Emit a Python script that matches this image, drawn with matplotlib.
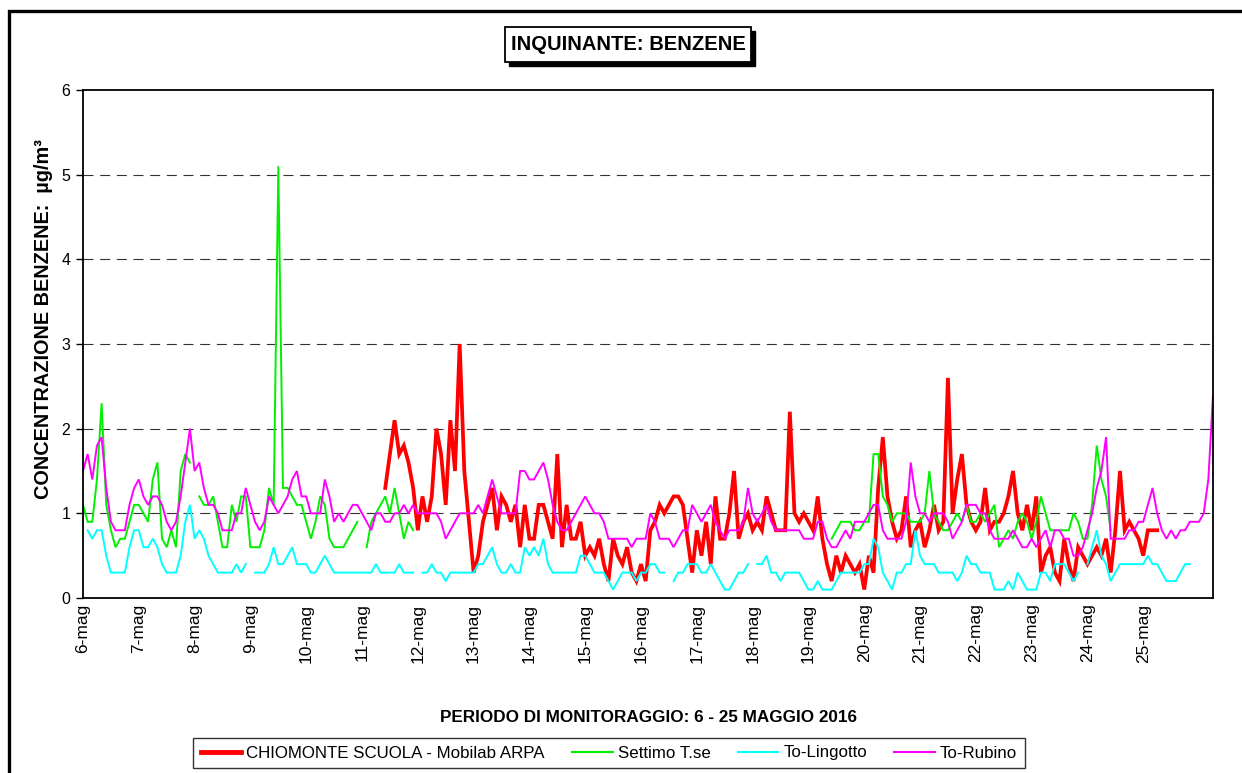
import numpy as np
import matplotlib
matplotlib.use("Agg")
import matplotlib.pyplot as plt
from matplotlib.lines import Line2D
from matplotlib.patches import Rectangle

plt.rcParams["font.family"] = ["Liberation Sans", "DejaVu Sans"]

nan = np.nan

# 2-hourly readings from 6 May 00:00, one row of 12 values per day
DAY_LABELS = [f"{d}-mag" for d in range(6, 26)]
STEP_H = 2

chiomonte = (
    [nan] * 12 * 5
    + [nan, nan, nan, nan, nan, 1.3, 1.7, 2.1, 1.7, 1.8, 1.6, 1.3]
    + [0.8, 1.2, 0.9, 1.2, 2.0, 1.7, 1.1, 2.1, 1.5, 3.0, 1.5, 0.9]
    + [0.3, 0.5, 0.9, 1.1, 1.3, 0.8, 1.2, 1.1, 0.9, 1.1, 0.6, 1.1]
    + [0.7, 0.7, 1.1, 1.1, 0.9, 0.7, 1.7, 0.6, 1.1, 0.7, 0.7, 0.9]
    + [0.5, 0.6, 0.5, 0.7, 0.4, 0.2, 0.7, 0.5, 0.4, 0.6, 0.3, 0.2]
    + [0.4, 0.2, 0.8, 0.9, 1.1, 1.0, 1.1, 1.2, 1.2, 1.1, 0.7, 0.3]
    + [0.8, 0.5, 0.9, 0.4, 1.2, 0.7, 0.7, 1.0, 1.5, 0.7, 0.9, 1.0]
    + [0.8, 0.9, 0.8, 1.2, 1.0, 0.8, 0.8, 0.8, 2.2, 1.0, 0.9, 1.0]
    + [0.9, 0.8, 1.2, 0.7, 0.4, 0.2, 0.5, 0.3, 0.5, 0.4, 0.3, 0.4]
    + [0.1, 0.5, 0.3, 1.3, 1.9, 1.2, 0.9, 0.7, 0.8, 1.2, 0.6, 0.8]
    + [0.9, 0.6, 0.8, 1.1, 0.8, 0.9, 2.6, 1.0, 1.4, 1.7, 1.1, 0.9]
    + [0.8, 0.9, 1.3, 0.8, 0.9, 0.9, 1.0, 1.2, 1.5, 1.0, 0.8, 1.1]
    + [0.8, 1.2, 0.3, 0.5, 0.6, 0.3, 0.2, 0.7, 0.4, 0.2, 0.6, 0.5]
    + [0.4, 0.5, 0.6, 0.5, 0.7, 0.3, 0.8, 1.5, 0.8, 0.9, 0.8, 0.7]
    + [0.5, 0.8, 0.8, 0.8] + [nan] * 8
    + [nan] * 4
)

settimo = (
    [1.1, 0.9, 0.9, 1.4, 2.3, 1.1, 0.8, 0.6, 0.7, 0.7, 0.9, 1.1]
    + [1.1, 1.0, 0.9, 1.4, 1.6, 0.7, 0.6, 0.8, 0.6, 1.5, 1.7, 1.6]
    + [nan, 1.2, 1.1, 1.1, 1.2, 0.9, 0.6, 0.6, 1.1, 0.9, 1.2, 1.2]
    + [0.6, 0.6, 0.6, 0.8, 1.3, 1.1, 5.1, 1.3, 1.3, 1.2, 1.1, 1.1]
    + [0.9, 0.7, 0.9, 1.2, 1.1, 0.7, 0.6, 0.6, 0.6, 0.7, 0.8, 0.9]
    + [nan, 0.6, 0.9, 1.0, 1.1, 1.2, 1.0, 1.3, 1.0, 0.7, 0.9, 0.8]
    + [nan] * 12 * 7
    + [nan] * 5 + [0.7, 0.8, 0.9, 0.9, 0.9, 0.8, 0.8]
    + [0.9, 0.9, 1.7, 1.7, 1.2, 1.1, 0.9, 1.0, 1.0, 1.0, 0.9, 0.9]
    + [0.9, 1.0, 1.5, 1.0, 0.9, 0.8, 0.8, 0.9, 1.0, 0.9, 1.1, 0.9]
    + [0.9, 1.0, 0.9, 1.0, 1.1, 0.6, 0.7, 0.8, 0.7, 0.9, 1.0, 0.9]
    + [0.7, 0.9, 1.2, 1.0, 0.8, 0.8, 0.8, 0.8, 0.8, 1.0, 0.9, 0.7]
    + [0.7, 1.1, 1.8, 1.4, 1.2, 0.8] + [nan] * 6
    + [nan] * 12
    + [nan] * 4
)

lingotto = (
    [nan, 0.8, 0.7, 0.8, 0.8, 0.5, 0.3, 0.3, 0.3, 0.3, 0.6, 0.8]
    + [0.8, 0.6, 0.6, 0.7, 0.6, 0.4, 0.3, 0.3, 0.3, 0.5, 0.9, 1.1]
    + [0.7, 0.8, 0.7, 0.5, 0.4, 0.3, 0.3, 0.3, 0.3, 0.4, 0.3, 0.4]
    + [nan, 0.3, 0.3, 0.3, 0.4, 0.6, 0.4, 0.4, 0.5, 0.6, 0.4, 0.4]
    + [0.4, 0.3, 0.3, 0.4, 0.5, 0.4, 0.3, 0.3, 0.3, 0.3, 0.3, 0.3]
    + [0.3, 0.3, 0.3, 0.4, 0.3, 0.3, 0.3, 0.3, 0.4, 0.3, 0.3, 0.3]
    + [nan, 0.3, 0.3, 0.4, 0.3, 0.3, 0.2, 0.3, 0.3, 0.3, 0.3, 0.3]
    + [0.3, 0.4, 0.4, 0.5, 0.6, 0.4, 0.3, 0.3, 0.4, 0.3, 0.3, 0.6]
    + [0.5, 0.6, 0.5, 0.7, 0.4, 0.3, 0.3, 0.3, 0.3, 0.3, 0.3, 0.5]
    + [0.5, 0.4, 0.3, 0.3, 0.3, 0.2, 0.1, 0.2, 0.3, 0.3, 0.3, 0.2]
    + [0.3, 0.3, 0.4, 0.4, 0.3, 0.3, nan, 0.2, 0.3, 0.3, 0.4, 0.4]
    + [0.4, 0.3, 0.3, 0.4, 0.3, 0.2, 0.1, 0.1, 0.2, 0.3, 0.3, 0.4]
    + [nan, 0.4, 0.4, 0.5, 0.3, 0.3, 0.2, 0.3, 0.3, 0.3, 0.3, 0.2]
    + [0.1, 0.1, 0.2, 0.1, 0.1, 0.1, 0.2, 0.3, 0.3, 0.3, 0.3, 0.3]
    + [0.4, 0.4, 0.7, 0.6, 0.3, 0.2, 0.1, 0.3, 0.3, 0.4, 0.4, 0.8]
    + [0.5, 0.4, 0.4, 0.4, 0.3, 0.3, 0.3, 0.3, 0.2, 0.3, 0.5, 0.4]
    + [0.4, 0.3, 0.3, 0.3, 0.1, 0.1, 0.1, 0.2, 0.1, 0.3, 0.2, 0.1]
    + [0.1, 0.1, 0.3, 0.3, 0.2, 0.4, 0.4, 0.4, 0.3, 0.2, 0.3, nan]
    + [0.4, 0.6, 0.8, 0.5, 0.4, 0.2, 0.3, 0.4, 0.4, 0.4, 0.4, 0.4]
    + [0.4, 0.5, 0.4, 0.4, 0.3, 0.2, 0.2, 0.2, 0.3, 0.4, 0.4, nan]
    + [nan] * 4
)

rubino = (
    [1.5, 1.7, 1.4, 1.8, 1.9, 1.3, 0.9, 0.8, 0.8, 0.8, 1.1, 1.3]
    + [1.4, 1.2, 1.1, 1.2, 1.2, 1.1, 0.9, 0.8, 0.9, 1.2, 1.6, 2.0]
    + [1.5, 1.6, 1.3, 1.1, 1.1, 1.0, 0.8, 0.8, 0.8, 1.0, 1.0, 1.3]
    + [1.1, 0.9, 0.8, 0.9, 1.2, 1.1, 1.0, 1.1, 1.2, 1.4, 1.5, 1.2]
    + [1.2, 1.0, 1.0, 1.0, 1.4, 1.2, 0.9, 1.0, 0.9, 1.0, 1.1, 1.1]
    + [1.0, 0.9, 0.8, 1.0, 1.0, 0.9, 0.9, 1.0, 1.0, 1.1, 1.0, 1.1]
    + [1.0, 1.0, 1.0, 1.0, 1.0, 0.9, 0.7, 0.8, 0.9, 1.0, 1.0, 1.0]
    + [1.0, 1.1, 1.0, 1.2, 1.4, 1.2, 1.0, 1.0, 1.0, 1.0, 1.5, 1.5]
    + [1.4, 1.4, 1.5, 1.6, 1.4, 1.1, 0.9, 0.8, 0.8, 0.9, 1.0, 1.1]
    + [1.2, 1.1, 1.0, 1.0, 0.9, 0.7, 0.7, 0.7, 0.7, 0.7, 0.6, 0.7]
    + [0.7, 0.7, 1.0, 0.9, 0.7, 0.7, 0.7, 0.6, 0.7, 0.8, 0.8, 1.1]
    + [1.0, 0.9, 1.0, 1.1, 0.9, 0.8, 0.7, 0.8, 0.8, 0.8, 0.9, 1.3]
    + [1.0, 0.9, 1.0, 1.1, 0.9, 0.8, 0.8, 0.8, 0.8, 0.8, 0.8, 0.7]
    + [0.7, 0.7, 0.9, 0.9, 0.7, 0.6, 0.6, 0.7, 0.8, 0.7, 0.9, 0.9]
    + [0.9, 1.0, 1.1, 1.1, 0.8, 0.7, 0.7, 0.7, 0.7, 0.9, 1.6, 1.2]
    + [1.0, 1.0, 0.9, 1.0, 1.0, 1.0, 0.9, 0.7, 0.8, 0.9, 1.1, 1.1]
    + [1.1, 1.0, 1.0, 0.8, 0.7, 0.7, 0.7, 0.7, 0.8, 0.7, 0.6, 0.6]
    + [0.7, 0.6, 0.7, 0.8, 0.6, 0.8, 0.8, 0.7, 0.7, 0.5, 0.5, 0.6]
    + [0.8, 1.0, 1.3, 1.5, 1.9, 0.7, 0.7, 0.7, 0.7, 0.8, 0.8, 0.9]
    + [0.9, 1.1, 1.3, 1.0, 0.8, 0.7, 0.8, 0.7, 0.8, 0.8, 0.9, 0.9]
    + [0.9, 1.0, 1.4, 2.4]
)

SERIES = [
    ("CHIOMONTE SCUOLA - Mobilab ARPA", chiomonte, "#FF0000", 2.7),
    ("Settimo T.se", settimo, "#00F000", 1.4),
    ("To-Lingotto", lingotto, "#00FFFF", 1.4),
    ("To-Rubino", rubino, "#FF00FF", 1.4),
]

W, H = 1242, 773


def fx(px):
    return px / W


def fy(py):
    return 1 - py / H


def main():
    fig = plt.figure(figsize=(W / 100, H / 100), dpi=100)
    fig.patch.set_facecolor("white")

    # outer chart frame (cropped on right/bottom in the original)
    fig.add_artist(Rectangle((fx(9), -0.2), 1.5, fy(11) + 0.2, transform=fig.transFigure,
                             fill=False, edgecolor="black", lw=2.4))

    ax = fig.add_axes([fx(83), fy(598), fx(1213) - fx(83), fy(90) - fy(598)])
    hours = np.arange(len(rubino)) * STEP_H
    for name, vals, col, lw in SERIES:
        ax.plot(hours, np.array(vals, dtype=float), color=col, lw=lw, label=name,
                solid_joinstyle="miter")

    ax.set_xlim(0, hours[-1])
    ax.set_ylim(0, 6)
    ax.set_yticks(range(7))
    ax.set_xticks(np.arange(len(DAY_LABELS)) * 24)
    ax.set_xticklabels(DAY_LABELS, rotation=90, fontsize=12.5)
    ax.tick_params(axis="x", length=0, pad=4)
    ax.tick_params(axis="y", length=5, width=1, labelsize=11.5, pad=4, direction="out")
    for y in range(1, 6):
        ax.axhline(y, color="#333333", lw=0.8, dashes=(9, 6), zorder=0)
    for s in ax.spines.values():
        s.set_linewidth(1.3)
        s.set_color("black")

    fig.text(fx(44), fy(319), "CONCENTRAZIONE BENZENE:  µg/m³", rotation=90,
             ha="center", va="center", fontsize=14.3, fontweight="bold")
    fig.text(fx(648), fy(718), "PERIODO DI MONITORAGGIO: 6 - 25 MAGGIO 2016",
             ha="center", va="center", fontsize=12.3, fontweight="bold")

    # title box with drop shadow
    fig.add_artist(Rectangle((fx(509), fy(66)), fx(755) - fx(509), fy(31) - fy(66),
                             transform=fig.transFigure, facecolor="black", edgecolor="black"))
    fig.add_artist(Rectangle((fx(505), fy(62)), fx(751) - fx(505), fy(27) - fy(62),
                             transform=fig.transFigure, facecolor="white", edgecolor="black", lw=1.3))
    fig.text(fx(628), fy(45), "INQUINANTE: BENZENE", ha="center", va="center",
             fontsize=14.5, fontweight="bold")

    handles = [Line2D([], [], color=c, lw=(3.5 if lw > 2 else 1.5)) for _, _, c, lw in SERIES]
    labels = [n for n, _, _, _ in SERIES]
    leg = fig.legend(handles, labels, loc="center", bbox_to_anchor=(fx(609), fy(753)),
                     ncol=4, frameon=True, fancybox=False, fontsize=12.2,
                     handlelength=2.4, handletextpad=0.3, columnspacing=1.6,
                     borderpad=0.45, borderaxespad=0)
    leg.get_frame().set_edgecolor("black")
    leg.get_frame().set_linewidth(1.0)

    fig.savefig("out.png", dpi=100)
    plt.close(fig)


if __name__ == "__main__":
    main()
